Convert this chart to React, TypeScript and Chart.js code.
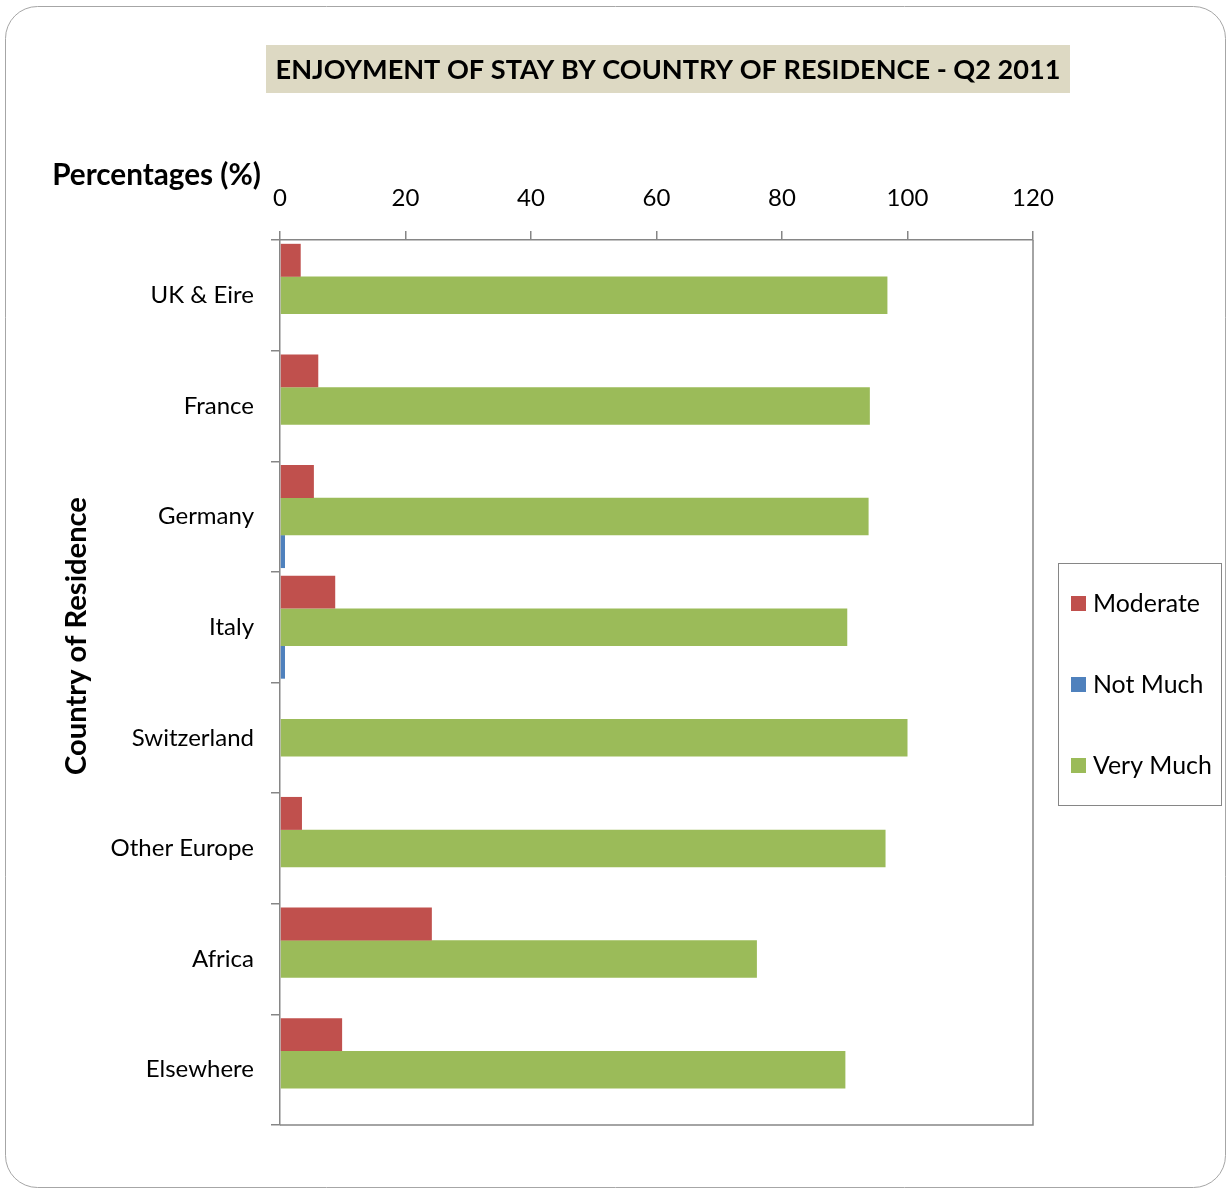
import React, { useEffect, useRef } from "react";
import { Chart, registerables } from "chart.js";

Chart.register(...registerables);

const categories = ["UK & Eire", "France", "Germany", "Italy", "Switzerland", "Other Europe", "Africa", "Elsewhere"];
const moderate = [3.3, 6.1, 5.4, 8.8, 0, 3.5, 24.2, 9.9];
const veryMuch = [96.8, 94.0, 93.8, 90.4, 100, 96.5, 76.0, 90.1];
const notMuch = [0, 0, 0.8, 0.8, 0, 0, 0, 0];
const xMin = 0;
const xMax = 120;
const xStep = 20;
const legendOrder = ["Moderate", "Not Much", "Very Much"];
const titleText = "ENJOYMENT OF STAY BY COUNTRY OF RESIDENCE - Q2 2011";
const xTitle = "Percentages (%)";
const yTitle = "Country of Residence";

const RED = "#C0504D";
const BLUE = "#4F81BD";
const GREEN = "#9BBB59";
const AXIS = "#868686";
const FONT = "Lato, 'Open Sans', sans-serif";

function fitSize(ctx: CanvasRenderingContext2D, text: string, target: number, weight: string) {
  ctx.font = `${weight} 100px ${FONT}`;
  const w = ctx.measureText(text).width;
  return (100 * target) / w;
}

const decor = {
  id: "decor",
  beforeDraw(chart: any) {
    const ctx: CanvasRenderingContext2D = chart.ctx;
    ctx.save();
    ctx.fillStyle = "#ffffff";
    ctx.fillRect(0, 0, chart.width, chart.height);
    ctx.strokeStyle = "#a6a6a6";
    ctx.lineWidth = 1;
    ctx.beginPath();
    (ctx as any).roundRect(5.5, 6.5, 1220, 1181, 32);
    ctx.stroke();
    ctx.fillStyle = "#DDD9C3";
    ctx.fillRect(266, 45, 804, 48);
    const ts = fitSize(ctx, titleText, 785, "bold");
    ctx.font = `bold ${ts}px ${FONT}`;
    ctx.fillStyle = "#000";
    ctx.textAlign = "center";
    ctx.textBaseline = "middle";
    ctx.fillText(titleText, 668, 70);
    ctx.restore();
  },
  afterDraw(chart: any) {
    const ctx: CanvasRenderingContext2D = chart.ctx;
    const a = chart.chartArea;
    ctx.save();
    ctx.strokeStyle = AXIS;
    ctx.lineWidth = 1.5;
    ctx.beginPath();
    ctx.moveTo(a.left, a.bottom);
    ctx.lineTo(a.right, a.bottom);
    ctx.lineTo(a.right, a.top);
    ctx.stroke();
    const ps = fitSize(ctx, xTitle, 209, "bold");
    ctx.font = `bold ${ps}px ${FONT}`;
    ctx.fillStyle = "#000";
    ctx.textAlign = "right";
    ctx.textBaseline = "middle";
    ctx.fillText(xTitle, 261, 175);
    const ys = fitSize(ctx, yTitle, 278, "bold");
    ctx.font = `bold ${ys}px ${FONT}`;
    ctx.translate(77, 636);
    ctx.rotate(-Math.PI / 2);
    ctx.textAlign = "center";
    ctx.fillText(yTitle, 0, 0);
    ctx.setTransform(1, 0, 0, 1, 0, 0);
    ctx.restore();

    ctx.save();
    ctx.strokeStyle = AXIS;
    ctx.lineWidth = 1;
    ctx.strokeRect(1058.5, 563.5, 163, 242);
    const ls = fitSize(ctx, "Moderate", 107, "normal");
    ctx.font = `normal ${ls}px ${FONT}`;
    ctx.textAlign = "left";
    ctx.textBaseline = "middle";
    legendOrder.forEach((name, i) => {
      const ds = chart.data.datasets.find((d: any) => d.label === name);
      const cy = 603 + i * 81;
      ctx.fillStyle = ds.backgroundColor;
      ctx.fillRect(1071, cy - 7, 15, 15);
      ctx.fillStyle = "#000";
      ctx.fillText(name, 1093, cy + 1);
    });
    ctx.restore();
  },
};

export default function App() {
  const ref = useRef<HTMLCanvasElement>(null);
  useEffect(() => {
    if (!ref.current) return;
    const chart = new Chart(ref.current, {
      type: "bar",
      data: {
        labels: categories,
        datasets: [
          { label: "Moderate", data: moderate, backgroundColor: RED, barPercentage: 0.94 },
          { label: "Very Much", data: veryMuch, backgroundColor: GREEN, barPercentage: 1.07 },
          { label: "Not Much", data: notMuch, backgroundColor: BLUE, barPercentage: 0.94 },
        ],
      },
      options: {
        indexAxis: "y",
        responsive: false,
        animation: false,
        devicePixelRatio: 1,
        layout: { padding: { left: 0, top: 0, right: 1227 - 1033, bottom: 1189 - 1125 } },
        datasets: { bar: { categoryPercentage: 0.95 } },
        plugins: { legend: { display: false }, title: { display: false }, tooltip: { enabled: false } },
        scales: {
          x: {
            position: "top",
            min: xMin,
            max: xMax,
            afterFit: (s: any) => { s.height = 240; },
            ticks: { stepSize: xStep, color: "#000", font: { family: FONT, size: 24 }, padding: 18 },
            grid: { drawOnChartArea: false, tickLength: 9, color: AXIS, lineWidth: 1.5 },
            border: { color: AXIS, width: 1.5 },
          },
          y: {
            afterFit: (s: any) => { s.width = 280; },
            ticks: { color: "#000", font: { family: FONT, size: 24 }, padding: 17 },
            grid: { drawOnChartArea: false, tickLength: 9, color: AXIS, lineWidth: 1.5, offset: true },
            border: { color: AXIS, width: 1.5 },
          },
        },
      },
      plugins: [decor],
    } as any);
    return () => chart.destroy();
  }, []);
  return (
    <div style={{ position: "absolute", left: 0, top: 0, width: 1227, height: 1189 }}>
      <canvas ref={ref} width={1227} height={1189} style={{ width: 1227, height: 1189 }} />
    </div>
  );
}
